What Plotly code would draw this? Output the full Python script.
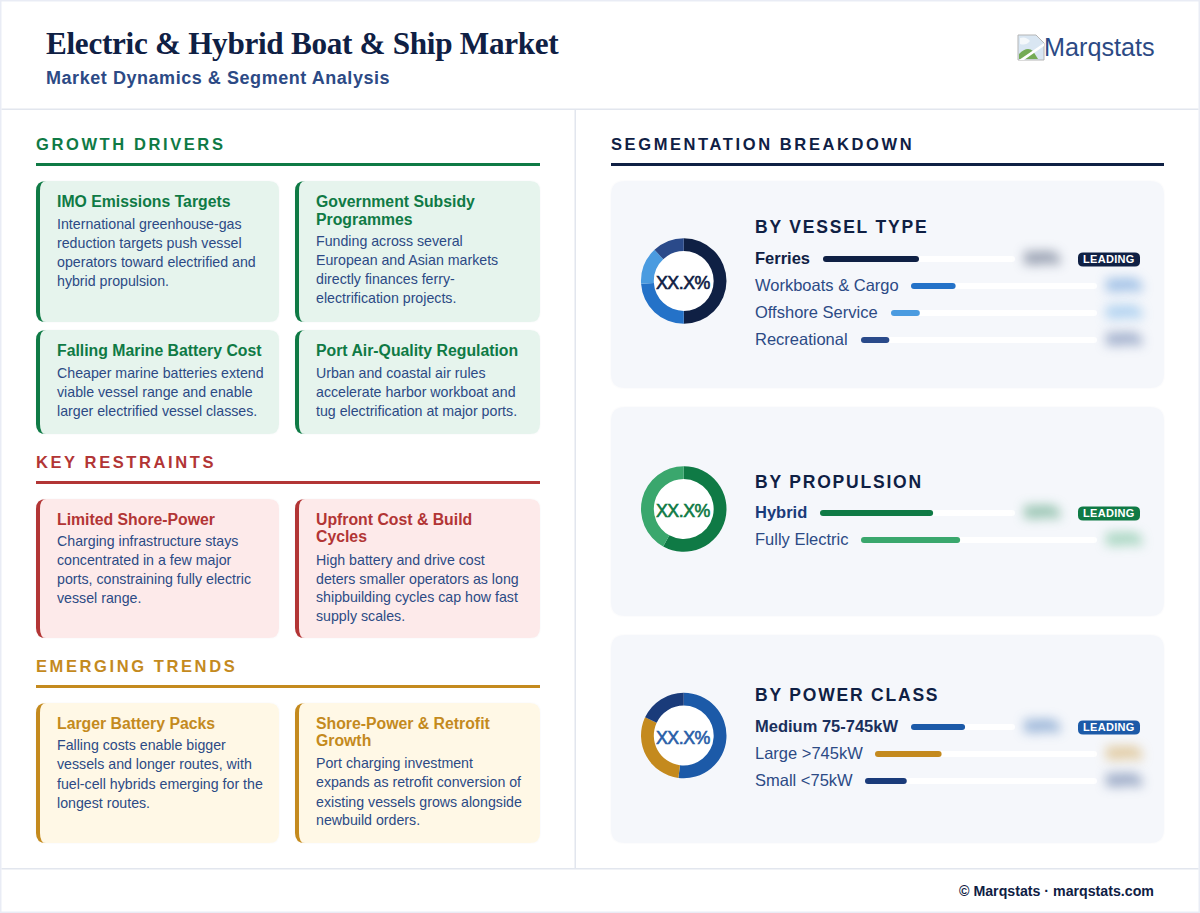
"""
Electric & Hybrid Boat & Ship Market infographic drawn on one Plotly figure.
"""

import plotly.graph_objects as go

# Card texts
GROWTH_TITLES = [
    ["IMO Emissions Targets"],
    ["Government Subsidy", "Programmes"],
    ["Falling Marine Battery Cost"],
    ["Port Air-Quality Regulation"],
]
GROWTH_BODIES = [
    ["International greenhouse-gas", "reduction targets push vessel",
     "operators toward electrified and", "hybrid propulsion."],
    ["Funding across several", "European and Asian markets",
     "directly finances ferry-", "electrification projects."],
    ["Cheaper marine batteries extend", "viable vessel range and enable",
     "larger electrified vessel classes."],
    ["Urban and coastal air rules", "accelerate harbor workboat and",
     "tug electrification at major ports."],
]
RESTRAINT_TITLES = [["Limited Shore-Power"], ["Upfront Cost &amp; Build", "Cycles"]]
RESTRAINT_BODIES = [
    ["Charging infrastructure stays", "concentrated in a few major",
     "ports, constraining fully electric", "vessel range."],
    ["High battery and drive cost", "deters smaller operators as long",
     "shipbuilding cycles cap how fast", "supply scales."],
]
TREND_TITLES = [["Larger Battery Packs"], ["Shore-Power &amp; Retrofit", "Growth"]]
TREND_BODIES = [
    ["Falling costs enable bigger", "vessels and longer routes, with",
     "fuel-cell hybrids emerging for the", "longest routes."],
    ["Port charging investment", "expands as retrofit conversion of",
     "existing vessels grows alongside", "newbuild orders."],
]

# Segment shares
VESSEL_LABELS = ["Ferries", "Workboats &amp; Cargo", "Offshore Service", "Recreational"]
VESSEL_SHARES = [50, 24, 14, 12]
PROPULSION_LABELS = ["Hybrid", "Fully Electric"]
PROPULSION_SHARES = [58, 42]
POWER_LABELS = ["Medium 75-745kW", "Large &gt;745kW", "Small &lt;75kW"]
POWER_SHARES = [52, 30, 18]

W, H = 1200, 913
SANS = "Liberation Sans"
SERIF = "Liberation Serif"
NAVY = "#0f2044"
INK = "#2c4a85"
GREEN, GREEN_BG = "#0f7a45", "#e6f4ed"
RED, RED_BG = "#b23535", "#fdeaea"
AMBER, AMBER_BG = "#c48a1e", "#fff8e6"
PANEL_BG = "#f5f7fb"
RULE = "#e2e6ee"
BAR_PX = 6

fig = go.Figure()
shapes = []
notes = []
axis_count = 1


def text(x, y, s, size, color, bold=False, family=SANS, anchor="left", spacing=None, stroke=None):
    style = ""
    if spacing is not None:
        style += f"letter-spacing:{spacing}px;"
    if stroke is not None:
        style += f"stroke:{color};stroke-width:{stroke}px;"
    if style:
        s = f"<span style='{style}'>{s}</span>"
    if bold:
        s = f"<b>{s}</b>"
    notes.append(dict(x=x, y=y, xref="x", yref="y", text=s, showarrow=False,
                      font=dict(family=family, size=size, color=color),
                      xanchor=anchor, yanchor="middle", borderpad=0, borderwidth=0))


def path_shape(path, color, line=None):
    shapes.append(dict(type="path", path=path, xref="x", yref="y", fillcolor=color,
                       line=line or dict(width=0), layer="below"))


def round_rect(x0, y0, x1, y1, r, color):
    path_shape(f"M{x0+r},{y0} L{x1-r},{y0} Q{x1},{y0} {x1},{y0+r} L{x1},{y1-r} Q{x1},{y1} {x1-r},{y1} "
               f"L{x0+r},{y1} Q{x0},{y1} {x0},{y1-r} L{x0},{y0+r} Q{x0},{y0} {x0+r},{y0} Z", color)


def rect(x0, y0, x1, y1, color):
    shapes.append(dict(type="rect", x0=x0, y0=y0, x1=x1, y1=y1, xref="x", yref="y",
                       fillcolor=color, line=dict(width=0), layer="below"))


def section(x0, x1, y, label, color):
    text(x0, y, label, 16.5, color, bold=True, spacing=2.6)
    rect(x0, y + 19, x1, y + 22, color)


def card(x0, y0, x1, y1, title, body, title_ys, body_ys, color, bg):
    r = 10
    round_rect(x0 - 1, y0 - 1, x1 + 1, y1 + 1, r, "rgba(15,32,68,0.012)")
    round_rect(x0, y0, x1, y1, r, bg)
    # left accent with curved inner edge, like a css border-left on a rounded box
    path_shape(f"M{x0+r},{y0} Q{x0},{y0} {x0},{y0+r} L{x0},{y1-r} Q{x0},{y1} {x0+r},{y1} "
               f"Q{x0+4},{y1} {x0+4},{y1-r} L{x0+4},{y0+r} Q{x0+4},{y0} {x0+r},{y0} Z", color)
    for line, y in zip(title, title_ys):
        text(x0 + 21, y, line, 15.8, color, bold=True)
    for line, y in zip(body, body_ys):
        text(x0 + 21, y, line, 14.2, INK)


def add_pill(n, value, radius, color, caps):
    # square bar between the round caps
    fig.add_trace(go.Bar(x=[value - 2 * radius], base=[radius], y=[0], orientation="h", width=1,
                         xaxis=f"x{n}", yaxis=f"y{n}", marker=dict(color=color, line=dict(width=0)),
                         hoverinfo="skip", showlegend=False))
    fig.add_trace(go.Scatter(x=caps, y=[0] * len(caps), mode="markers", xaxis=f"x{n}", yaxis=f"y{n}",
                             marker=dict(color=color, size=BAR_PX, line=dict(width=0)),
                             hoverinfo="skip", showlegend=False))


def row_bar(x0, x1, y, share, color):
    # every row has its own 0-100 axis stretched over its track
    global axis_count
    axis_count += 1
    n = axis_count
    radius = (BAR_PX / 2) / (x1 - x0) * 100
    # the track only needs its right cap, the fill covers the left end
    add_pill(n, 100, radius, "#ffffff", [100 - radius])
    add_pill(n, share, radius, color, [radius, share - radius])
    half = BAR_PX / 2 + 0.02  # keeps the bar edge from rounding a pixel short
    fig.layout[f"xaxis{n}"] = dict(domain=[x0 / W, x1 / W], range=[0, 100], visible=False, fixedrange=True)
    fig.layout[f"yaxis{n}"] = dict(domain=[1 - (y + half) / H, 1 - (y - half) / H], range=[-0.5, 0.5],
                                   visible=False, fixedrange=True, anchor=f"x{n}")


def panel(y0, y1, heading, heading_y, labels, shares, colors, row_ys, bar_starts, bar_ends,
          badge_color, ring_y, ring_text_y, center_color, first_label_color):
    round_rect(610, y0 - 1, 1165, y1 + 1, 14, "rgba(15,32,68,0.012)")
    round_rect(611, y0, 1164, y1, 14, PANEL_BG)
    text(755, heading_y, heading, 17.5, NAVY, bold=True, spacing=1.8)
    # white disc behind the ring hole
    shapes.append(dict(type="circle", x0=653, x1=714, y0=ring_y - 31, y1=ring_y + 31, xref="x", yref="y",
                       fillcolor="#ffffff", line=dict(width=0), layer="below"))
    fig.add_trace(go.Pie(values=shares, labels=labels, hole=0.7, sort=False, direction="clockwise",
                         rotation=0, textinfo="none", showlegend=False,
                         marker=dict(colors=colors, line=dict(width=0)),
                         domain=dict(x=[641 / W, 726.5 / W],
                                     y=[1 - (ring_y + 43) / H, 1 - (ring_y - 43) / H])))
    text(683.5, ring_text_y, "XX.X%", 17.8, center_color, anchor="center", spacing=-0.5, stroke=0.6)
    for i, label in enumerate(labels):
        y = row_ys[i]
        text(755, y, label, 16.5, first_label_color if i == 0 else INK, bold=i == 0)
        row_bar(bar_starts[i], bar_ends[i], y + 1, shares[i], colors[i])
        # blurred by the post script below
        text(1042 if i == 0 else 1124, y, "XX%", 16, colors[i], bold=True, anchor="center")
    round_rect(1078, row_ys[0] - 5.5, 1140, row_ys[0] + 8.5, 5, badge_color)
    text(1109, row_ys[0] + 0.5, "LEADING", 11, "#ffffff", bold=True, anchor="center", spacing=0.3)


# page frame, header and footer
rect(0, 0, W, H, "#e9ecf5")
rect(1.5, 1.5, W - 1.5, H - 1.5, "#ffffff")
rect(1.5, 108.5, W - 1.5, 110, RULE)
rect(1.5, 868, W - 1.5, 869.5, RULE)
rect(574.5, 110, 576, 868, RULE)

text(46, 43, "Electric &amp; Hybrid Boat &amp; Ship Market", 31.2, NAVY, bold=True, family=SERIF, spacing=-0.3)
text(46, 78, "Market Dynamics &amp; Segment Analysis", 18, INK, bold=True, spacing=0.55)
text(1044, 47, "Marqstats", 25.2, INK)
text(1154, 891, "© Marqstats · marqstats.com", 14.2, NAVY, bold=True, anchor="right")

# broken image icon next to the logo name
path_shape("M1018,35 L1036,35 L1044,43 L1044,60 L1018,60 Z", "#d9e6f2", dict(color="#b5b5b5", width=1))
path_shape("M1020,38 Q1026,36 1030,41 Q1026,46 1020,44 Z", "#f4f8fb")
path_shape("M1019,59 L1019,54 Q1027,46 1033,51 L1038,59 Z", "#74ab55")
path_shape("M1019,60 L1044,43 L1044,46 L1024,60 Z", "#ffffff")

# left column
section(36, 540, 144, "GROWTH DRIVERS", GREEN)
card(36, 181, 279, 322, GROWTH_TITLES[0], GROWTH_BODIES[0], [201], [224, 243, 262, 281], GREEN, GREEN_BG)
card(295, 181, 540, 322, GROWTH_TITLES[1], GROWTH_BODIES[1], [201, 219], [241, 260, 279, 298], GREEN, GREEN_BG)
card(36, 330, 279, 434, GROWTH_TITLES[2], GROWTH_BODIES[2], [350], [373, 392, 411], GREEN, GREEN_BG)
card(295, 330, 540, 434, GROWTH_TITLES[3], GROWTH_BODIES[3], [350], [373, 392, 411], GREEN, GREEN_BG)

section(36, 540, 462, "KEY RESTRAINTS", RED)
card(36, 499, 279, 638, RESTRAINT_TITLES[0], RESTRAINT_BODIES[0], [519], [541, 560, 579, 598], RED, RED_BG)
card(295, 499, 540, 638, RESTRAINT_TITLES[1], RESTRAINT_BODIES[1], [519, 536.5], [560, 579, 597, 616], RED, RED_BG)

section(36, 540, 666, "EMERGING TRENDS", AMBER)
card(36, 703, 279, 843, TREND_TITLES[0], TREND_BODIES[0], [723], [745, 764, 784, 803], AMBER, AMBER_BG)
card(295, 703, 540, 843, TREND_TITLES[1], TREND_BODIES[1], [723, 740], [763, 782, 802, 820], AMBER, AMBER_BG)

# right column
section(611, 1164, 144, "SEGMENTATION BREAKDOWN", NAVY)
panel(181, 388, "BY VESSEL TYPE", 227, VESSEL_LABELS, VESSEL_SHARES,
      [NAVY, "#2472c8", "#4a9be0", "#2a4a8a"], [258, 285, 312, 339],
      [823, 911, 891, 861], [1015, 1097, 1097, 1097], NAVY, 281, 283, NAVY, NAVY)
panel(407, 616, "BY PROPULSION", 482, PROPULSION_LABELS, PROPULSION_SHARES,
      [GREEN, "#3aa76d"], [512, 539], [820, 861], [1015, 1097], GREEN, 509, 511, GREEN, "#1a3b7a")
panel(635, 843, "BY POWER CLASS", 695, POWER_LABELS, POWER_SHARES,
      ["#1c5aa8", AMBER, "#1a3b7a"], [726, 753, 780], [911, 875, 865], [1015, 1097, 1097], "#1c5aa8",
      735.5, 738, "#2a5fa8", "#1a2f5c")

fig.update_layout(
    width=W, height=H, margin=dict(l=0, r=0, t=0, b=0), barmode="overlay", showlegend=False,
    paper_bgcolor="#ffffff", plot_bgcolor="rgba(0,0,0,0)",
    xaxis=dict(domain=[0, 1], range=[0, W], visible=False, fixedrange=True),
    yaxis=dict(domain=[0, 1], range=[H, 0], visible=False, fixedrange=True),
    shapes=shapes, annotations=notes,
)
# an empty trace keeps the page axes alive for shapes and text
fig.add_trace(go.Scatter(x=[], y=[], xaxis="x", yaxis="y", showlegend=False))

# the value labels are blurred out in the original
POST = """
document.body.style.margin = '0';
document.body.style.overflow = 'hidden';
function blurValues() {
  document.querySelectorAll('.annotation-text').forEach(function (el) {
    if (el.textContent === 'XX%') { el.style.filter = 'blur(6px)'; }
  });
}
blurValues();
setTimeout(blurValues, 50);
"""
fig.write_html("out.html", config={"displayModeBar": False}, post_script=POST)
